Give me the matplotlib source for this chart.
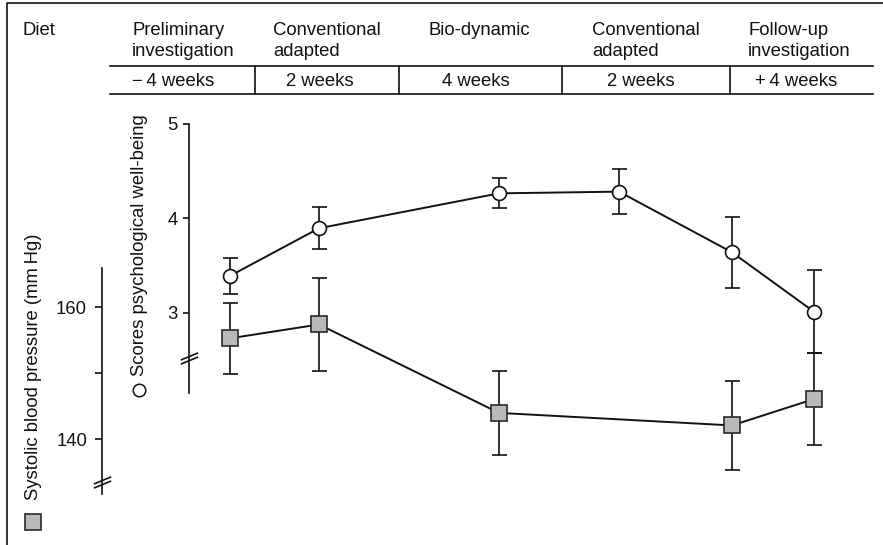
import matplotlib
matplotlib.use("Agg")
import matplotlib.pyplot as plt
from matplotlib.path import Path

plt.rcParams["font.family"] = ["Liberation Sans", "DejaVu Sans"]
plt.rcParams["font.size"] = 13.3

# ---- data -------------------------------------------------------------
phases = ["Preliminary\ninvestigation", "Conventional\nadapted", "Bio-dynamic",
          "Conventional\nadapted", "Follow-up\ninvestigation"]
durations = ["\u2212\u20094 weeks", "2 weeks", "4 weeks", "2 weeks", "+\u20094 weeks"]

# psychological well-being score (mean, error) at six visits
wellbeing_mean = [3.39, 3.895, 4.265, 4.283, 3.64, 3.01]
wellbeing_err = [0.19, 0.22, 0.16, 0.24, 0.375, 0.44]

# systolic blood pressure in mm Hg (mean, error) at five visits
bp_mean = [155.3, 157.4, 144.0, 142.1, 146.1]
bp_err = [5.4, 7.1, 6.4, 6.8, 6.9]

# ---- layout -----------------------------------------------------------
W, H = 883, 545
visit_pos = [230, 319, 499, 619, 732, 814]
bp_visit_pos = [230, 319, 499, 732, 814]

ink = "#111111"
grey_fill = "#b9b9b9"

fig = plt.figure(figsize=(W / 100, H / 100), dpi=100)

# break symbol: two short parallel slanted strokes
brk = Path([(-8.5, -5.5), (8.5, 1.5), (-8.5, -1.5), (8.5, 5.5)],
           [Path.MOVETO, Path.LINETO, Path.MOVETO, Path.LINETO])


def style_axis(ax, xpos, lo, hi, ticklen, pad):
    ax.set_facecolor("none")
    for s in ("top", "right", "bottom"):
        ax.spines[s].set_visible(False)
    ax.spines["left"].set_position(("data", xpos))
    ax.spines["left"].set_bounds(lo, hi)
    ax.spines["left"].set_linewidth(1.2)
    ax.spines["left"].set_color(ink)
    ax.set_xticks([])
    ax.tick_params(axis="y", direction="out", length=ticklen, width=1.2,
                   color=ink, labelcolor=ink, pad=pad, labelsize=13.3)


# ---- psychological well-being axis ------------------------------------
ax = fig.add_axes([0, 0, 1, 1])
ax.set_xlim(0, W)
ax.set_ylim(0.5379, 6.3142)
style_axis(ax, 189, 2.152, 5.0, 4.5, 3.5)
ax.set_yticks([3, 4, 5])
ax.set_yticklabels(["3", "4", "5"])

# ---- blood pressure axis ----------------------------------------------
bx = fig.add_axes([0, 0, 1, 1], label="bp")
bx.set_xlim(0, W)
bx.set_ylim(123.985, 206.56)
style_axis(bx, 101.7, 131.7, 165.95, 5.0, 5.5)
bx.set_yticks([140, 150, 160])
bx.set_yticklabels(["140", "", "160"])

# axis breaks
ax.plot([189], [2.52], marker=brk, markersize=12.5, mfc="none", mec=ink,
        mew=1.2, linestyle="none", clip_on=False)
bx.plot([101.7], [133.5], marker=brk, markersize=12.5, mfc="none", mec=ink,
        mew=1.2, linestyle="none", clip_on=False)

# ---- series -----------------------------------------------------------
bx.errorbar(bp_visit_pos, bp_mean, yerr=bp_err, fmt="none", ecolor=ink,
            elinewidth=1.2, capsize=5.4, capthick=1.2, zorder=2)
bx.plot(bp_visit_pos, bp_mean, color=ink, lw=1.4, marker="s", markersize=11,
        mfc=grey_fill, mec="#2a2a2a", mew=1.2, zorder=3)

ax.errorbar(visit_pos, wellbeing_mean, yerr=wellbeing_err, fmt="none",
            ecolor=ink, elinewidth=1.2, capsize=5.4, capthick=1.2, zorder=2)
ax.plot(visit_pos, wellbeing_mean, color=ink, lw=1.4, marker="o",
        markersize=10, mfc="white", mec=ink, mew=1.2, zorder=3)

# ---- header table and axis titles (pixel coordinates) -----------------
hx = fig.add_axes([0, 0, 1, 1], label="hdr")
hx.set_xlim(0, W)
hx.set_ylim(H, 0)
hx.axis("off")
hx.set_facecolor("none")

# outer frame (left and top edges)
hx.plot([7, 7, W], [H, 2.5, 2.5], color=ink, lw=1.2, solid_capstyle="butt")

hx.text(22, 35, "Diet", ha="left", va="baseline", color=ink)

phase_left = [132, 273, 429, 592, 748]
for x, label in zip(phase_left, phases):
    lines = label.split("\n")
    for i, line in enumerate(lines):
        hx.text(x, 35 + 21.5 * i, line, ha="left", va="baseline", color=ink)

row_top, row_bot = 65.7, 94.0
row_left, row_right = 110, 873
dividers = [255, 398.5, 562.3, 730]
hx.plot([row_left, row_right], [row_top, row_top], color=ink, lw=1.2)
hx.plot([row_left, row_right], [row_bot, row_bot], color=ink, lw=1.2)
for x in dividers:
    hx.plot([x, x], [row_top, row_bot], color=ink, lw=1.2)

dur_x = [132, 320, 476, 641, 796]
dur_ha = ["left", "center", "center", "center", "center"]
for x, ha, label in zip(dur_x, dur_ha, durations):
    hx.text(x, 86, label, ha=ha, va="baseline", color=ink)

# axis titles with their symbol keys
hx.text(34, 367, "Systolic blood pressure (mm\u2009Hg)", rotation=90,
        ha="center", va="center", color=ink)
hx.plot([33], [522], marker="s", markersize=11.5, mfc=grey_fill,
        mec="#2a2a2a", mew=1.2, linestyle="none")

hx.text(140, 245, "Scores psychological well-being", rotation=90,
        ha="center", va="center", color=ink)
hx.plot([139], [390], marker="o", markersize=9, mfc="white", mec=ink,
        mew=1.1, linestyle="none")

fig.savefig("out.png", dpi=100)
